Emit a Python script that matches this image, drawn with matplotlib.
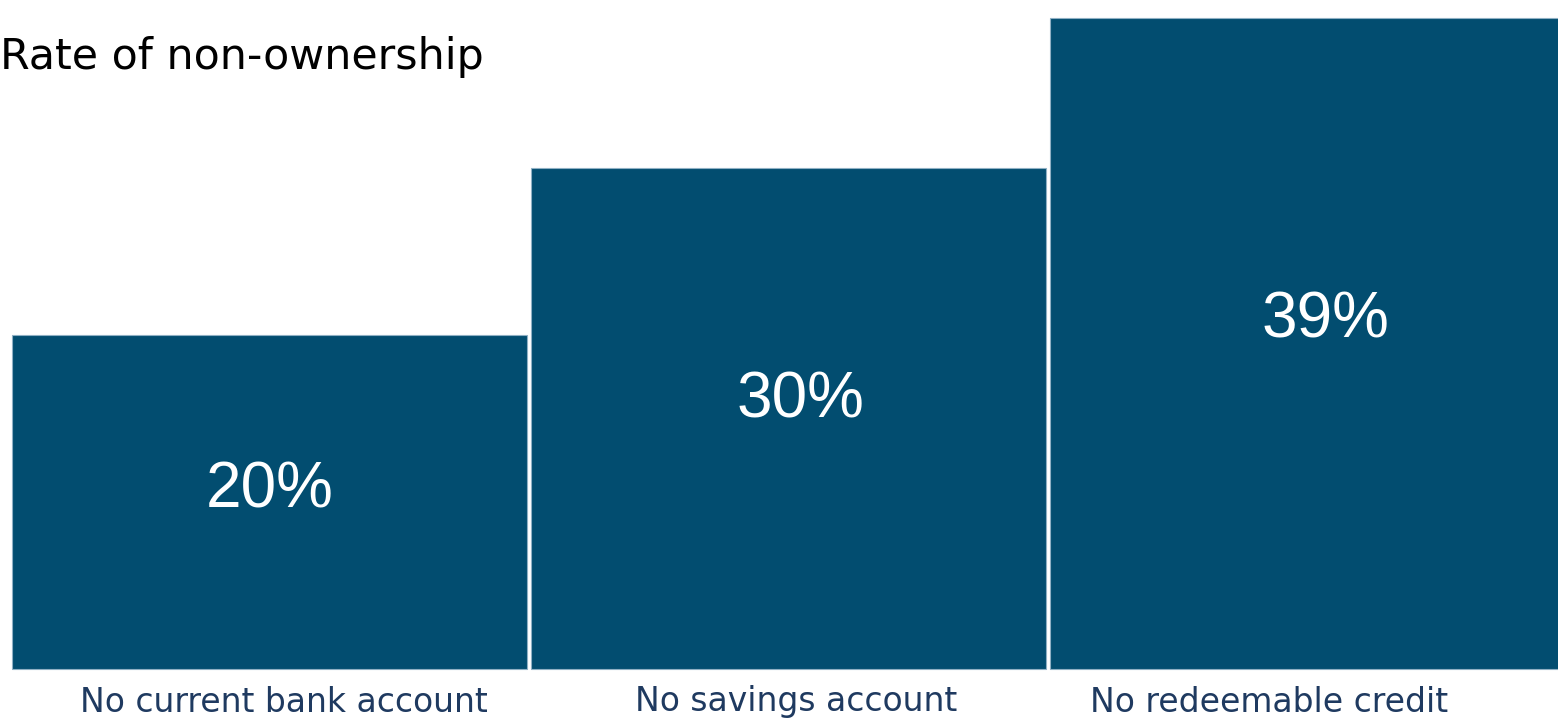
import matplotlib
matplotlib.use("Agg")
import matplotlib.pyplot as plt

# Data
categories = ["No current bank account", "No savings account", "No redeemable credit"]
values = [20, 30, 39]
value_labels = ["20%", "30%", "39%"]
title_text = "Rate of non-ownership"

W, H, DPI = 1558, 720, 100
fig = plt.figure(figsize=(W / DPI, H / DPI), dpi=DPI)
ax = fig.add_axes([0, 0, 1, 1])

bar_color = "#024D70"
edge_color = "#8FB0C4"
text_color = "#1F3A60"

# Scale: one category slot is 519 px wide, 16.7 px per percentage point, baseline 51 px from bottom
slot_px = 519.0
center0_px = 269.5
px_per_unit = 16.7
base_px = 51.0

ax.set_xlim(-center0_px / slot_px, (W - center0_px) / slot_px)
ax.set_ylim(-base_px / px_per_unit, (H - base_px) / px_per_unit)

x = list(range(len(categories)))
ax.bar(x, values, width=515 / slot_px, color=bar_color, edgecolor=edge_color, linewidth=0.8)

for xi, v, lab, dx in zip(x, values, value_labels, [0.0, 0.024, 0.034]):
    ax.text(xi + dx, v * 0.535, lab, ha="center", va="center", color="white",
            fontsize=46, family="Liberation Sans")

label_y = -(702 - (H - base_px)) / px_per_unit
for xi, cat, dx in zip(x, categories, [0.028, 0.015, -0.074]):
    ax.text(xi + dx, label_y, cat, ha="center", va="center", color=text_color,
            fontsize=23.8, family="DejaVu Sans")

ax.text(-center0_px / slot_px, (H - base_px - 57) / px_per_unit, title_text,
        ha="left", va="center", color="black", fontsize=30.8, family="DejaVu Sans")

ax.axis("off")
fig.savefig("out.png", dpi=DPI)
